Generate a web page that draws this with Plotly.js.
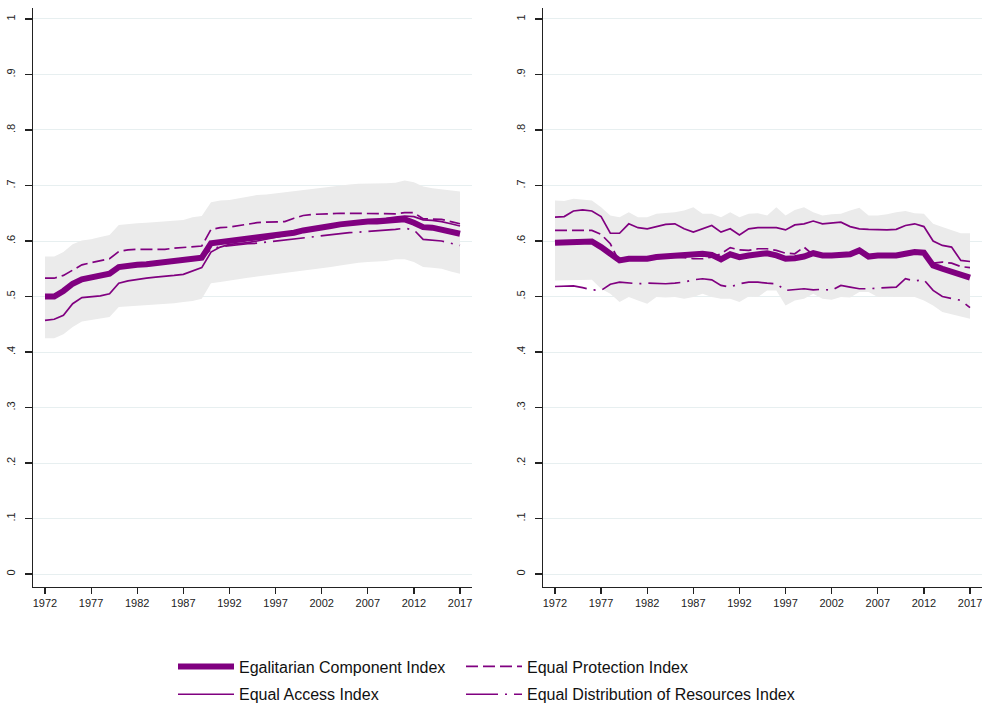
<!DOCTYPE html>
<html>
<head>
<meta charset="utf-8">
<script src="https://cdn.plot.ly/plotly-3.0.1.min.js"></script>
<style>html,body{margin:0;padding:0;background:#fff;}#chart{width:982px;height:704px;}</style>
</head>
<body>
<div id="chart"></div>
<script>
// ---------- DATA ----------
const years = [1972,1973,1974,1975,1976,1977,1978,1979,1980,1981,1982,1983,1984,1985,1986,1987,1988,1989,1990,1991,1992,1993,1994,1995,1996,1997,1998,1999,2000,2001,2002,2003,2004,2005,2006,2007,2008,2009,2010,2011,2012,2013,2014,2015,2016,2017];

// Left panel
const leftEgal = [.500,.500,.510,.523,.531,.534,.536,.541,.553,.556,.557,.558,.560,.561,.564,.565,.567,.570,.596,.598,.600,.602,.604,.607,.608,.609,.611,.615,.619,.621,.623,.627,.630,.632,.634,.635,.635,.637,.638,.639,.633,.625,.624,.621,.617,.613];
const leftProt = [.533,.533,.538,.548,.557,.561,.564,.568,.581,.584,.585,.585,.585,.585,.587,.588,.589,.591,.621,.624,.625,.628,.631,.633,.634,.634,.635,.641,.646,.648,.648,.649,.650,.650,.650,.650,.650,.649,.649,.651,.651,.640,.640,.639,.635,.631];
const leftAcc  = [.457,.459,.466,.487,.498,.500,.501,.505,.524,.528,.531,.533,.535,.536,.538,.540,.546,.552,.580,.589,.594,.595,.597,.600,.603,.606,.609,.613,.617,.620,.623,.627,.631,.634,.636,.638,.639,.641,.643,.645,.644,.638,.637,.635,.631,.627];
const leftDist = [.503,.503,.512,.524,.532,.535,.537,.542,.553,.556,.557,.558,.560,.561,.563,.564,.566,.568,.585,.590,.592,.594,.595,.596,.598,.600,.602,.604,.606,.608,.609,.611,.613,.615,.616,.617,.618,.619,.621,.623,.620,.603,.602,.600,.596,.592];
const leftHi   = [.572,.572,.580,.594,.601,.603,.607,.611,.629,.631,.632,.633,.634,.636,.637,.638,.643,.645,.670,.673,.674,.677,.680,.683,.684,.686,.688,.691,.693,.695,.697,.699,.701,.702,.703,.703,.704,.704,.705,.709,.706,.698,.695,.693,.691,.689];
const leftLo   = [.425,.425,.432,.445,.455,.458,.460,.463,.481,.482,.483,.484,.485,.487,.488,.490,.492,.496,.524,.526,.529,.532,.534,.536,.538,.541,.543,.545,.547,.549,.551,.553,.556,.559,.561,.562,.563,.564,.567,.567,.562,.553,.552,.550,.545,.541];

// Right panel
const rightEgal = [.597,.598,.599,.599,.599,.589,.577,.565,.568,.567,.568,.571,.572,.574,.574,.577,.577,.575,.567,.576,.571,.574,.576,.578,.574,.568,.569,.572,.578,.574,.574,.575,.576,.583,.572,.574,.574,.574,.577,.580,.579,.556,.550,.545,.538,.534];
const rightProt = [.619,.619,.620,.620,.619,.612,.595,.562,.567,.566,.567,.569,.570,.571,.570,.568,.568,.571,.577,.588,.584,.583,.586,.586,.583,.578,.577,.589,.575,.574,.573,.574,.575,.580,.571,.573,.573,.573,.576,.579,.578,.560,.562,.560,.554,.552];
const rightAcc  = [.643,.644,.654,.656,.654,.644,.614,.614,.631,.624,.622,.626,.630,.631,.622,.616,.622,.628,.616,.622,.611,.622,.624,.624,.624,.620,.629,.631,.636,.631,.633,.634,.626,.622,.621,.620,.620,.621,.628,.631,.626,.600,.592,.589,.565,.563];
const rightDist = [.518,.518,.519,.516,.512,.511,.522,.526,.524,.523,.524,.523,.523,.524,.526,.530,.532,.530,.520,.517,.523,.526,.526,.524,.523,.511,.512,.514,.512,.513,.511,.520,.517,.514,.514,.515,.515,.517,.532,.528,.530,.511,.500,.497,.493,.480];
const rightHi   = [.673,.672,.676,.674,.673,.661,.646,.643,.652,.643,.643,.649,.650,.652,.655,.661,.649,.649,.643,.652,.643,.649,.650,.646,.661,.646,.656,.661,.652,.646,.648,.649,.655,.660,.646,.646,.648,.652,.654,.650,.649,.631,.625,.620,.614,.614];
const rightLo   = [.529,.529,.529,.529,.530,.514,.505,.490,.499,.493,.487,.499,.498,.499,.496,.499,.505,.499,.496,.496,.490,.500,.499,.511,.511,.484,.493,.496,.505,.496,.494,.499,.498,.508,.508,.499,.500,.499,.499,.499,.493,.484,.472,.468,.464,.460];

const seriesNames = ["Egalitarian Component Index","Equal Access Index","Equal Protection Index","Equal Distribution of Resources Index"];
const yTickVals = [0,.1,.2,.3,.4,.5,.6,.7,.8,.9,1];
const yTickText = ["0",".1",".2",".3",".4",".5",".6",".7",".8",".9","1"];
const xTickVals = [1972,1977,1982,1987,1992,1997,2002,2007,2012,2017];

// ---------- STYLE ----------
const PURPLE = "#800080";
const BAND = "#ebebeb";
const FONT = "'Liberation Sans', Arial, Helvetica, sans-serif";

function panel(xa, ya, hi, lo, egal, acc, prot, dist, legendOn) {
  return [
    {x: years, y: hi, xaxis: xa, yaxis: ya, mode: "lines", line: {width: 0, color: BAND}, showlegend: false, hoverinfo: "skip"},
    {x: years, y: lo, xaxis: xa, yaxis: ya, mode: "lines", line: {width: 0, color: BAND}, fill: "tonexty", fillcolor: BAND, showlegend: false, hoverinfo: "skip"},
    {x: years, y: prot, xaxis: xa, yaxis: ya, mode: "lines", name: seriesNames[2], line: {color: PURPLE, width: 1.7, dash: "12px,5px"}, showlegend: legendOn, legend: "legend2", legendgroup: "p" + xa, legendrank: 1},
    {x: years, y: dist, xaxis: xa, yaxis: ya, mode: "lines", name: seriesNames[3], line: {color: PURPLE, width: 1.7, dash: "32px,7px,2px,7px"}, showlegend: legendOn, legend: "legend2", legendgroup: "d" + xa, legendrank: 2},
    {x: years, y: acc, xaxis: xa, yaxis: ya, mode: "lines", name: seriesNames[1], line: {color: PURPLE, width: 1.7}, showlegend: legendOn, legend: "legend", legendgroup: "a" + xa, legendrank: 2},
    {x: years, y: egal, xaxis: xa, yaxis: ya, mode: "lines", name: seriesNames[0], line: {color: PURPLE, width: 6}, showlegend: legendOn, legend: "legend", legendgroup: "e" + xa, legendrank: 1}
  ];
}

const traces = [].concat(
  panel("x", "y", leftHi, leftLo, leftEgal, leftAcc, leftProt, leftDist, true),
  panel("x2", "y2", rightHi, rightLo, rightEgal, rightAcc, rightProt, rightDist, false)
);

const W = 982;
function xAxis(domain) {
  return {
    domain: domain, range: [1970.7, 2018.3], tickvals: xTickVals,
    showline: true, linecolor: "#222", linewidth: 1.2,
    ticks: "outside", ticklen: 6, tickcolor: "#222", tickwidth: 1.2,
    showgrid: false, zeroline: false, ticklabeloverflow: "allow", automargin: false,
    tickfont: {family: FONT, size: 11, color: "#222"}
  };
}
function yAxis(anchor) {
  return {
    anchor: anchor, range: [-0.0234, 1.0198], tickvals: yTickVals, ticktext: yTickText,
    tickangle: -90, ticklabelstandoff: 5, automargin: false,
    showline: true, linecolor: "#222", linewidth: 1.2,
    ticks: "outside", ticklen: 7, tickcolor: "#222", tickwidth: 1.2,
    showgrid: true, gridcolor: "#e7eff0", gridwidth: 1, zeroline: false,
    tickfont: {family: FONT, size: 11, color: "#222"}
  };
}

const legendCommon = {
  orientation: "v", xanchor: "left", yanchor: "top", y: -0.108,
  itemwidth: 56, tracegroupgap: 4, traceorder: "grouped",
  bgcolor: "rgba(0,0,0,0)", borderwidth: 0,
  font: {family: FONT, size: 16, color: "#111"}
};

const layout = {
  width: 982, height: 704,
  margin: {l: 0, r: 0, t: 8, b: 117, autoexpand: false},
  paper_bgcolor: "#fff", plot_bgcolor: "#fff",
  xaxis: Object.assign(xAxis([33 / W, 472 / W]), {anchor: "y"}),
  yaxis: yAxis("x"),
  xaxis2: Object.assign(xAxis([543 / W, 1]), {anchor: "y2"}),
  yaxis2: yAxis("x2"),
  legend: Object.assign({}, legendCommon, {x: 173 / W}),
  legend2: Object.assign({}, legendCommon, {x: 461 / W}),
  font: {family: FONT},
  showlegend: true
};

Plotly.newPlot("chart", traces, layout, {staticPlot: true, displayModeBar: false});
</script>
</body>
</html>
